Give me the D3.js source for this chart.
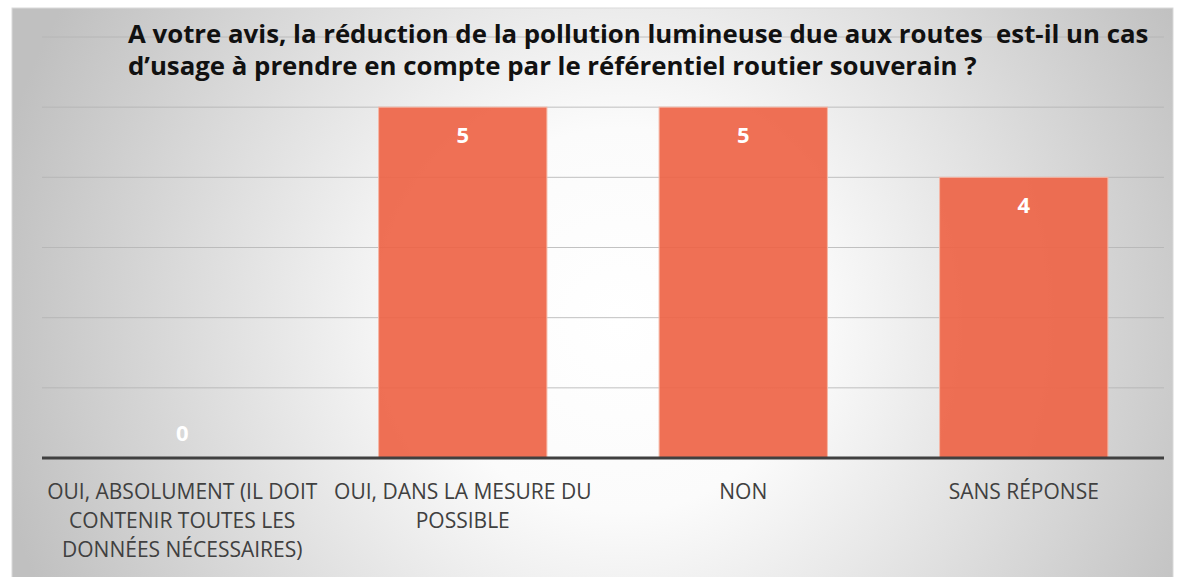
<!DOCTYPE html>
<html><head><meta charset="utf-8">
<script src="https://cdn.jsdelivr.net/npm/d3@7"></script>
<style>html,body{margin:0;padding:0;background:#fff;}svg{display:block;}</style>
</head><body><svg id="chart" width="1184" height="577"></svg>
<script>
const titleLines = ["A votre avis, la réduction de la pollution lumineuse due aux routes\u00a0 est-il un cas", "d\u2019usage à prendre en compte par le référentiel routier souverain ?"];
const categories = ["OUI, ABSOLUMENT (IL DOIT CONTENIR TOUTES LES DONNÉES NÉCESSAIRES)", "OUI, DANS LA MESURE DU POSSIBLE", "NON", "SANS RÉPONSE"];
const categoryLines = [["OUI, ABSOLUMENT (IL DOIT", "CONTENIR TOUTES LES", "DONNÉES NÉCESSAIRES)"], ["OUI, DANS LA MESURE DU", "POSSIBLE"], ["NON"], ["SANS RÉPONSE"]];
const values = [0, 5, 5, 4];
const yTicks = [0, 1, 2, 3, 4, 5, 6];

const svg = d3.select("#chart");
const defs = svg.append("defs");
const grad = defs.append("radialGradient").attr("id", "bg").attr("gradientUnits", "userSpaceOnUse")
  .attr("cx", 620).attr("cy", 320).attr("r", 640);
grad.append("stop").attr("offset", "0%").attr("stop-color", "#ffffff");
grad.append("stop").attr("offset", "30%").attr("stop-color", "#fbfbfb");
grad.append("stop").attr("offset", "100%").attr("stop-color", "#c0c0c0");

svg.append("rect").attr("x", 12).attr("y", 8).attr("width", 1161).attr("height", 577).attr("fill", "url(#bg)")
  .attr("stroke", "#d9d9d9").attr("stroke-width", 1);

const x = d3.scaleBand().domain(categories).range([42, 1164]).paddingInner(0.4).paddingOuter(0.2);
const y = d3.scaleLinear().domain([0, 6]).range([458, 37]);

// gridlines
svg.append("g").selectAll("line").data(yTicks.filter(d => d > 0)).join("line")
  .attr("x1", 42).attr("x2", 1164).attr("y1", d => y(d)).attr("y2", d => y(d))
  .attr("stroke", "#b4b4b4").attr("stroke-width", 1).attr("opacity", 0.8);

// title
svg.append("text").attr("font-family", "'Open Sans', sans-serif").attr("font-weight", 700)
  .attr("font-size", 25.8).attr("fill", "#111").selectAll("tspan").data(titleLines).join("tspan")
  .attr("x", 128).attr("y", (d, i) => 43 + i * 32).text(d => d);

// bars
svg.append("g").selectAll("rect").data(values).join("rect")
  .attr("x", (d, i) => x(categories[i])).attr("width", x.bandwidth())
  .attr("y", d => y(d)).attr("height", d => y(0) - y(d))
  .attr("fill", "#ee6446").attr("fill-opacity", 0.92)
  .attr("stroke", "#f6b7a6").attr("stroke-width", 1);

// value labels
svg.append("g").selectAll("text").data(values).join("text")
  .attr("x", (d, i) => x(categories[i]) + x.bandwidth() / 2)
  .attr("y", d => d > 0 ? y(d) + 36 : y(0) - 17)
  .attr("text-anchor", "middle").attr("font-family", "'Open Sans', sans-serif")
  .attr("font-weight", 700).attr("font-size", 22).attr("fill", "#fff").text(d => d);

// baseline axis
const xAxis = d3.axisBottom(x).tickSize(0).tickFormat("");
const ax = svg.append("g").attr("transform", `translate(0,${y(0)})`).call(xAxis);
ax.select(".domain").attr("stroke", "#404040").attr("stroke-width", 3).attr("d", "M42,0H1164");

// category labels
categories.forEach((c, i) => {
  const t = svg.append("text").attr("text-anchor", "middle")
    .attr("font-family", "'Open Sans', sans-serif").attr("font-size", 21).attr("fill", "#404040");
  t.selectAll("tspan").data(categoryLines[i]).join("tspan")
    .attr("x", x(c) + x.bandwidth() / 2).attr("y", (d, j) => 499 + j * 29).text(d => d);
});
</script></body></html>
